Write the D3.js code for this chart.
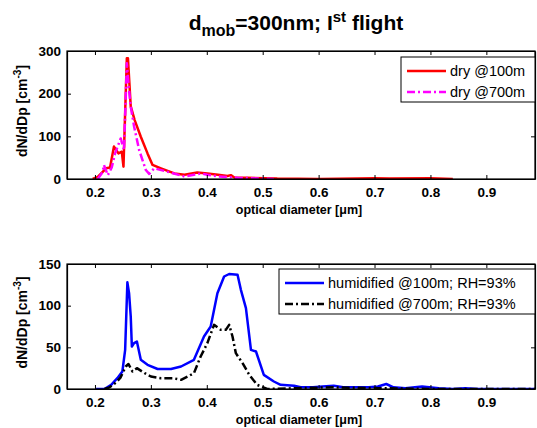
<!DOCTYPE html>
<html>
<head>
<meta charset="utf-8">
<script src="https://cdn.jsdelivr.net/npm/d3@7"></script>
<style>
  body { margin: 0; background: #fff; }
  text { font-family: "Liberation Sans", Arial, sans-serif; }
</style>
</head>
<body>
<div id="chart"></div>
<script>
// top panel: dry
var dry100X = [0.196, 0.205, 0.22, 0.227, 0.234, 0.242, 0.248, 0.251, 0.257, 0.259, 0.264, 0.271, 0.282, 0.294, 0.303, 0.318, 0.342, 0.36, 0.383, 0.401, 0.42, 0.437, 0.443, 0.45, 0.473, 0.503, 0.526, 0.6, 0.669, 0.7, 0.727, 0.8, 0.84];
var dry100Y = [0, 5, 25, 27, 76, 60, 64, 29, 283, 283, 170, 138, 99, 60, 33, 25, 13, 10, 15, 13, 10, 7, 9, 3, 3, 2, 1, 0, 1, 2, 1, 2, 0];
var dry700X = [0.205, 0.214, 0.216, 0.223, 0.23, 0.236, 0.246, 0.252, 0.257, 0.261, 0.264, 0.27, 0.279, 0.291, 0.297, 0.306, 0.33, 0.36, 0.39, 0.401, 0.42, 0.455, 0.497, 0.52];
var dry700Y = [0, 17, 33, 9, 27, 60, 95, 68, 271, 208, 170, 123, 68, 21, 12, 25, 17, 6, 13, 10, 6, 3, 1, 0];

// bottom panel: humidified
var hum100X = [0.202, 0.217, 0.229, 0.24, 0.249, 0.254, 0.258, 0.261, 0.264, 0.266, 0.27, 0.275, 0.282, 0.294, 0.312, 0.336, 0.354, 0.377, 0.395, 0.407, 0.419, 0.431, 0.44, 0.455, 0.461, 0.47, 0.479, 0.488, 0.502, 0.52, 0.532, 0.556, 0.568, 0.59, 0.607, 0.627, 0.644, 0.69, 0.706, 0.721, 0.734, 0.755, 0.785, 0.815, 0.84, 0.862, 0.886, 0.92, 1.0];
var hum100Y = [0, 0, 5, 13, 21, 47, 128, 115, 87, 51, 55, 57, 35, 29, 24, 24, 27, 35, 63, 75, 115, 135, 138, 137, 119, 97, 47, 45, 17, 9, 5, 4, 2, 2, 3, 4, 2, 2, 3, 6, 2, 1, 3, 1, 0, 1, 0, 0, 0];
var hum700X = [0.217, 0.226, 0.238, 0.246, 0.255, 0.26, 0.267, 0.275, 0.289, 0.3, 0.318, 0.34, 0.354, 0.366, 0.377, 0.389, 0.401, 0.413, 0.425, 0.434, 0.44, 0.446, 0.452, 0.464, 0.476, 0.49, 0.508, 0.56, 0.627, 0.706, 0.8, 1.0];
var hum700Y = [0, 2, 8, 14, 27, 30, 21, 25, 19, 15, 13, 13, 11, 15, 19, 39, 55, 77, 71, 71, 77, 63, 43, 31, 17, 5, 0, 1, 2, 1, 0, 0];

var xTicks = [0.2, 0.3, 0.4, 0.5, 0.6, 0.7, 0.8, 0.9];
var topYTicks = [0, 100, 200, 300];
var botYTicks = [0, 50, 100, 150];

var W = 537, H = 428;
var left = 67, right = 535;

var svg = d3.select("#chart").append("svg")
    .attr("width", W).attr("height", H);

var xScale = d3.scaleLinear().domain([0.15, 0.987]).range([left, right]);

function panel(id, top, bottom, yMax, yTicks, series, legend) {
    var yScale = d3.scaleLinear().domain([0, yMax]).range([bottom, top]);
    var g = svg.append("g");

    g.append("clipPath").attr("id", id)
        .append("rect")
        .attr("x", left).attr("y", top - 2)
        .attr("width", right - left).attr("height", bottom - top + 2);

    var line = d3.line()
        .x(function(d) { return xScale(d[0]); })
        .y(function(d) { return yScale(d[1]); });

    series.forEach(function(s) {
        g.append("path")
            .datum(d3.zip(s.x, s.y))
            .attr("clip-path", "url(#" + id + ")")
            .attr("fill", "none")
            .attr("stroke", s.color)
            .attr("stroke-width", 2.5)
            .attr("stroke-linejoin", "round")
            .attr("stroke-dasharray", s.dash)
            .attr("d", line);
    });

    // axes (ticks inward, box on)
    g.append("g").attr("transform", "translate(0," + bottom + ")")
        .call(d3.axisBottom(xScale).tickValues(xTicks).tickSizeInner(-4).tickSizeOuter(0).tickPadding(8).tickFormat(d3.format(".1f")));
    g.append("g").attr("transform", "translate(0," + top + ")")
        .call(d3.axisTop(xScale).tickValues(xTicks).tickSizeInner(-4).tickSizeOuter(0).tickFormat(""));
    g.append("g").attr("transform", "translate(" + left + ",0)")
        .call(d3.axisLeft(yScale).tickValues(yTicks).tickSizeInner(-4).tickSizeOuter(0).tickPadding(6));
    g.append("g").attr("transform", "translate(" + right + ",0)")
        .call(d3.axisRight(yScale).tickValues(yTicks).tickSizeInner(-4).tickSizeOuter(0).tickFormat(""));

    g.selectAll(".domain").attr("stroke", "#000").attr("stroke-width", 1.2);
    g.selectAll(".tick line").attr("stroke", "#000");
    g.selectAll(".tick text")
        .attr("fill", "#000")
        .style("font-size", "13.5px")
        .style("font-weight", "bold");

    g.append("rect")
        .attr("x", left).attr("y", top)
        .attr("width", right - left).attr("height", bottom - top)
        .attr("fill", "none").attr("stroke", "#000").attr("stroke-width", 1.2);

    // y label
    var yl = g.append("text")
        .attr("transform", "translate(27," + ((top + bottom) / 2 - 4) + ") rotate(-90)")
        .attr("text-anchor", "middle")
        .style("font-size", "14px").style("font-weight", "bold");
    yl.append("tspan").text("dN/dDp [cm");
    yl.append("tspan").attr("dy", -6).style("font-size", "10px").text("-3");
    yl.append("tspan").attr("dy", 6).text("]");

    // x label
    g.append("text")
        .attr("x", 299).attr("y", bottom + 35)
        .attr("text-anchor", "middle")
        .style("font-size", "12.5px").style("font-weight", "bold")
        .text("optical diameter [\u03bcm]");

    // legend
    var lg = g.append("g");
    lg.append("rect")
        .attr("x", legend.x).attr("y", legend.y)
        .attr("width", right - legend.x).attr("height", 45)
        .attr("fill", "#fff").attr("stroke", "#000").attr("stroke-width", 1);
    series.forEach(function(s, i) {
        var yy = legend.y + 14 + i * 21;
        lg.append("line")
            .attr("x1", legend.x + 6).attr("x2", legend.x + 45)
            .attr("y1", yy).attr("y2", yy)
            .attr("stroke", s.color).attr("stroke-width", 2.5)
            .attr("stroke-dasharray", s.dash);
        lg.append("text")
            .attr("x", legend.x + 49).attr("y", yy + 5)
            .style("font-size", "14.5px")
            .text(s.name);
    });
}

panel("clipTop", 51, 179, 300, topYTicks, [
    { name: "dry @100m", x: dry100X, y: dry100Y, color: "#ff0000", dash: null },
    { name: "dry @700m", x: dry700X, y: dry700Y, color: "#ff00ff", dash: "8,3,2,3" }
], { x: 401, y: 57 });

panel("clipBot", 264, 389, 150, botYTicks, [
    { name: "humidified @100m; RH=93%", x: hum100X, y: hum100Y, color: "#0000ff", dash: null },
    { name: "humidified @700m; RH=93%", x: hum700X, y: hum700Y, color: "#000000", dash: "8,3,2,3" }
], { x: 279, y: 269 });

// title
var t = svg.append("text")
    .attr("x", 296).attr("y", 30)
    .attr("text-anchor", "middle")
    .style("font-size", "21px").style("font-weight", "bold");
t.append("tspan").text("d");
t.append("tspan").attr("dy", 6).style("font-size", "16px").text("mob");
t.append("tspan").attr("dy", -6).text("=300nm; I");
t.append("tspan").attr("dy", -8).style("font-size", "15px").text("st");
t.append("tspan").attr("dy", 8).text(" flight");
</script>
</body>
</html>
